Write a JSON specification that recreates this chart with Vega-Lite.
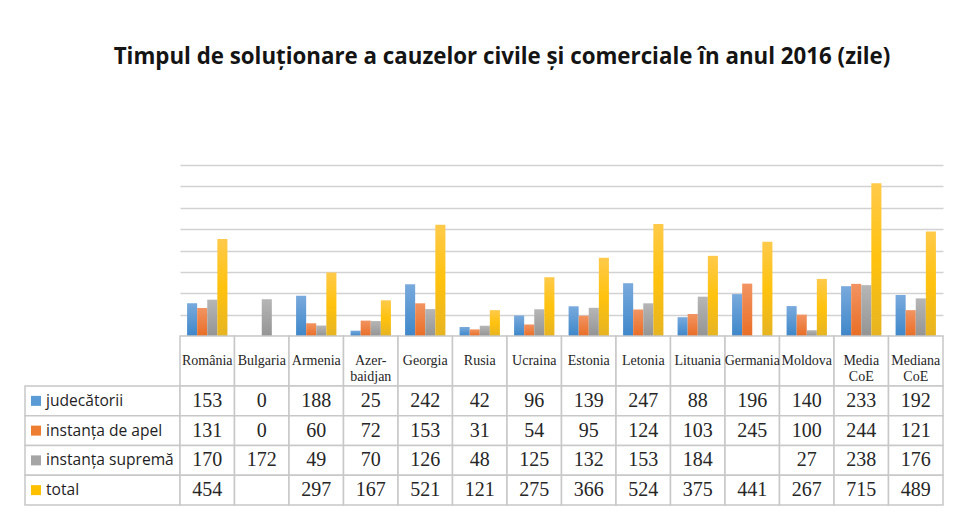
{
  "$schema": "https://vega.github.io/schema/vega-lite/v6.json",
  "background": "white",
  "padding": {"left": 24, "top": 45, "right": 0, "bottom": 0},
  "title": {
    "text": "Timpul de soluționare a cauzelor civile și comerciale în anul 2016 (zile)",
    "font": "Open Sans", "fontSize": 22.3, "fontWeight": "bold", "color": "#141414",
    "anchor": "middle", "dx": 18, "offset": 97
  },
  "datasets": {
    "d": [
      {"c": "România", "s": "judecătorii", "v": 153}, {"c": "România", "s": "instanța de apel", "v": 131}, {"c": "România", "s": "instanța supremă", "v": 170}, {"c": "România", "s": "total", "v": 454},
      {"c": "Bulgaria", "s": "judecătorii", "v": 0}, {"c": "Bulgaria", "s": "instanța de apel", "v": 0}, {"c": "Bulgaria", "s": "instanța supremă", "v": 172}, {"c": "Bulgaria", "s": "total", "v": null},
      {"c": "Armenia", "s": "judecătorii", "v": 188}, {"c": "Armenia", "s": "instanța de apel", "v": 60}, {"c": "Armenia", "s": "instanța supremă", "v": 49}, {"c": "Armenia", "s": "total", "v": 297},
      {"c": "Azerbaidjan", "s": "judecătorii", "v": 25}, {"c": "Azerbaidjan", "s": "instanța de apel", "v": 72}, {"c": "Azerbaidjan", "s": "instanța supremă", "v": 70}, {"c": "Azerbaidjan", "s": "total", "v": 167},
      {"c": "Georgia", "s": "judecătorii", "v": 242}, {"c": "Georgia", "s": "instanța de apel", "v": 153}, {"c": "Georgia", "s": "instanța supremă", "v": 126}, {"c": "Georgia", "s": "total", "v": 521},
      {"c": "Rusia", "s": "judecătorii", "v": 42}, {"c": "Rusia", "s": "instanța de apel", "v": 31}, {"c": "Rusia", "s": "instanța supremă", "v": 48}, {"c": "Rusia", "s": "total", "v": 121},
      {"c": "Ucraina", "s": "judecătorii", "v": 96}, {"c": "Ucraina", "s": "instanța de apel", "v": 54}, {"c": "Ucraina", "s": "instanța supremă", "v": 125}, {"c": "Ucraina", "s": "total", "v": 275},
      {"c": "Estonia", "s": "judecătorii", "v": 139}, {"c": "Estonia", "s": "instanța de apel", "v": 95}, {"c": "Estonia", "s": "instanța supremă", "v": 132}, {"c": "Estonia", "s": "total", "v": 366},
      {"c": "Letonia", "s": "judecătorii", "v": 247}, {"c": "Letonia", "s": "instanța de apel", "v": 124}, {"c": "Letonia", "s": "instanța supremă", "v": 153}, {"c": "Letonia", "s": "total", "v": 524},
      {"c": "Lituania", "s": "judecătorii", "v": 88}, {"c": "Lituania", "s": "instanța de apel", "v": 103}, {"c": "Lituania", "s": "instanța supremă", "v": 184}, {"c": "Lituania", "s": "total", "v": 375},
      {"c": "Germania", "s": "judecătorii", "v": 196}, {"c": "Germania", "s": "instanța de apel", "v": 245}, {"c": "Germania", "s": "instanța supremă", "v": null}, {"c": "Germania", "s": "total", "v": 441},
      {"c": "Moldova", "s": "judecătorii", "v": 140}, {"c": "Moldova", "s": "instanța de apel", "v": 100}, {"c": "Moldova", "s": "instanța supremă", "v": 27}, {"c": "Moldova", "s": "total", "v": 267},
      {"c": "Media CoE", "s": "judecătorii", "v": 233}, {"c": "Media CoE", "s": "instanța de apel", "v": 244}, {"c": "Media CoE", "s": "instanța supremă", "v": 238}, {"c": "Media CoE", "s": "total", "v": 715},
      {"c": "Mediana CoE", "s": "judecătorii", "v": 192}, {"c": "Mediana CoE", "s": "instanța de apel", "v": 121}, {"c": "Mediana CoE", "s": "instanța supremă", "v": 176}, {"c": "Mediana CoE", "s": "total", "v": 489}
    ],
    "cols": [
      {"c": "România", "label": "România"}, {"c": "Bulgaria", "label": "Bulgaria"}, {"c": "Armenia", "label": "Armenia"},
      {"c": "Azerbaidjan", "label": "Azer-\nbaidjan"}, {"c": "Georgia", "label": "Georgia"}, {"c": "Rusia", "label": "Rusia"},
      {"c": "Ucraina", "label": "Ucraina"}, {"c": "Estonia", "label": "Estonia"}, {"c": "Letonia", "label": "Letonia"},
      {"c": "Lituania", "label": "Lituania"}, {"c": "Germania", "label": "Germania"}, {"c": "Moldova", "label": "Moldova"},
      {"c": "Media CoE", "label": "Media\nCoE"}, {"c": "Mediana CoE", "label": "Mediana\nCoE"}
    ],
    "ser": [
      {"s": "judecătorii", "lbl": " judecătorii"},
      {"s": "instanța de apel", "lbl": "instanța de apel"},
      {"s": "instanța supremă", "lbl": "instanța supremă"},
      {"s": "total", "lbl": "total"}
    ]
  },
  "columns": 2,
  "spacing": 0,
  "bounds": "flush",
  "concat": [
    {"width": 155, "height": 171, "data": {"values": []}, "mark": "text", "encoding": {}},
    {
      "width": 763, "height": 171,
      "data": {"name": "d"},
      "encoding": {
        "x": {"field": "c", "type": "nominal", "axis": null,
              "scale": {"domain": ["România","Bulgaria","Armenia","Azerbaidjan","Georgia","Rusia","Ucraina","Estonia","Letonia","Lituania","Germania","Moldova","Media CoE","Mediana CoE"], "paddingInner": 0.26, "paddingOuter": 0.13}},
        "xOffset": {"field": "s", "type": "nominal",
              "scale": {"domain": ["judecătorii","instanța de apel","instanța supremă","total"], "paddingInner": 0, "paddingOuter": 0}},
        "y": {"field": "v", "type": "quantitative",
              "scale": {"domain": [0, 800], "nice": false},
              "axis": {"values": [0,100,200,300,400,500,600,700,800], "labels": false, "ticks": false, "domain": false, "grid": true, "gridColor": "#d2d2d2", "gridWidth": 1.5, "title": null}}
      },
      "layer": [
        {"transform": [{"filter": "datum.s === 'judecătorii'"}],
         "mark": {"type": "bar", "fill": {"gradient": "linear", "x1": 0, "y1": 0, "x2": 0, "y2": 1, "stops": [{"offset": 0, "color": "#79aadd"}, {"offset": 1, "color": "#3e87c9"}]}}},
        {"transform": [{"filter": "datum.s === 'instanța de apel'"}],
         "mark": {"type": "bar", "fill": {"gradient": "linear", "x1": 0, "y1": 0, "x2": 0, "y2": 1, "stops": [{"offset": 0, "color": "#f29462"}, {"offset": 1, "color": "#e96e26"}]}}},
        {"transform": [{"filter": "datum.s === 'instanța supremă'"}],
         "mark": {"type": "bar", "fill": {"gradient": "linear", "x1": 0, "y1": 0, "x2": 0, "y2": 1, "stops": [{"offset": 0, "color": "#b6b6b6"}, {"offset": 1, "color": "#949494"}]}}},
        {"transform": [{"filter": "datum.s === 'total'"}],
         "mark": {"type": "bar", "fill": {"gradient": "linear", "x1": 0, "y1": 0, "x2": 0, "y2": 1, "stops": [{"offset": 0, "color": "#ffca4a"}, {"offset": 0.5, "color": "#ffc20e"}, {"offset": 1, "color": "#e6b422"}]}}}
      ]
    },
    {"width": 155, "height": 50, "data": {"values": []}, "mark": "text", "encoding": {}},
    {
      "width": 763, "height": 50,
      "data": {"name": "cols"},
      "encoding": {
        "x": {"field": "c", "type": "nominal", "axis": null,
              "scale": {"domain": ["România","Bulgaria","Armenia","Azerbaidjan","Georgia","Rusia","Ucraina","Estonia","Letonia","Lituania","Germania","Moldova","Media CoE","Mediana CoE"], "paddingInner": 0, "paddingOuter": 0}}
      },
      "layer": [
        {"mark": {"type": "rect", "fill": "white", "stroke": "#c8c8c8", "strokeWidth": 1.5}},
        {"mark": {"type": "text", "font": "Liberation Serif", "fontSize": 14, "color": "#262626", "lineBreak": "\n", "lineHeight": 16},
         "encoding": {"text": {"field": "label"}}}
      ]
    },
    {
      "width": 155, "height": 119,
      "data": {"name": "ser"},
      "encoding": {
        "y": {"field": "s", "type": "nominal", "axis": null,
              "scale": {"domain": ["judecătorii","instanța de apel","instanța supremă","total"], "paddingInner": 0, "paddingOuter": 0}}
      },
      "layer": [
        {"mark": {"type": "rect", "fill": "white", "stroke": "#c8c8c8", "strokeWidth": 1.5}},
        {"mark": {"type": "square", "size": 100, "filled": true, "opacity": 1},
         "encoding": {"x": {"value": 11},
                      "color": {"field": "s", "type": "nominal", "legend": null,
                                "scale": {"domain": ["judecătorii","instanța de apel","instanța supremă","total"], "range": ["#5b9bd5","#ed7d31","#a5a5a5","#ffc000"]}}}},
        {"mark": {"type": "text", "align": "left", "font": "Open Sans", "fontSize": 15.6, "color": "#1e1e1e"},
         "encoding": {"x": {"value": 21}, "text": {"field": "lbl"}}}
      ]
    },
    {
      "width": 763, "height": 119,
      "data": {"name": "d"},
      "encoding": {
        "x": {"field": "c", "type": "nominal", "axis": null,
              "scale": {"domain": ["România","Bulgaria","Armenia","Azerbaidjan","Georgia","Rusia","Ucraina","Estonia","Letonia","Lituania","Germania","Moldova","Media CoE","Mediana CoE"], "paddingInner": 0, "paddingOuter": 0}},
        "y": {"field": "s", "type": "nominal", "axis": null,
              "scale": {"domain": ["judecătorii","instanța de apel","instanța supremă","total"], "paddingInner": 0, "paddingOuter": 0}}
      },
      "layer": [
        {"mark": {"type": "rect", "fill": "white", "stroke": "#c8c8c8", "strokeWidth": 1.5}},
        {"transform": [{"filter": "isValid(datum.v)"}],
         "mark": {"type": "text", "font": "Liberation Serif", "fontSize": 20, "color": "#262626"},
         "encoding": {"text": {"field": "v", "type": "quantitative"}}}
      ]
    }
  ],
  "config": {"view": {"stroke": null}}
}
